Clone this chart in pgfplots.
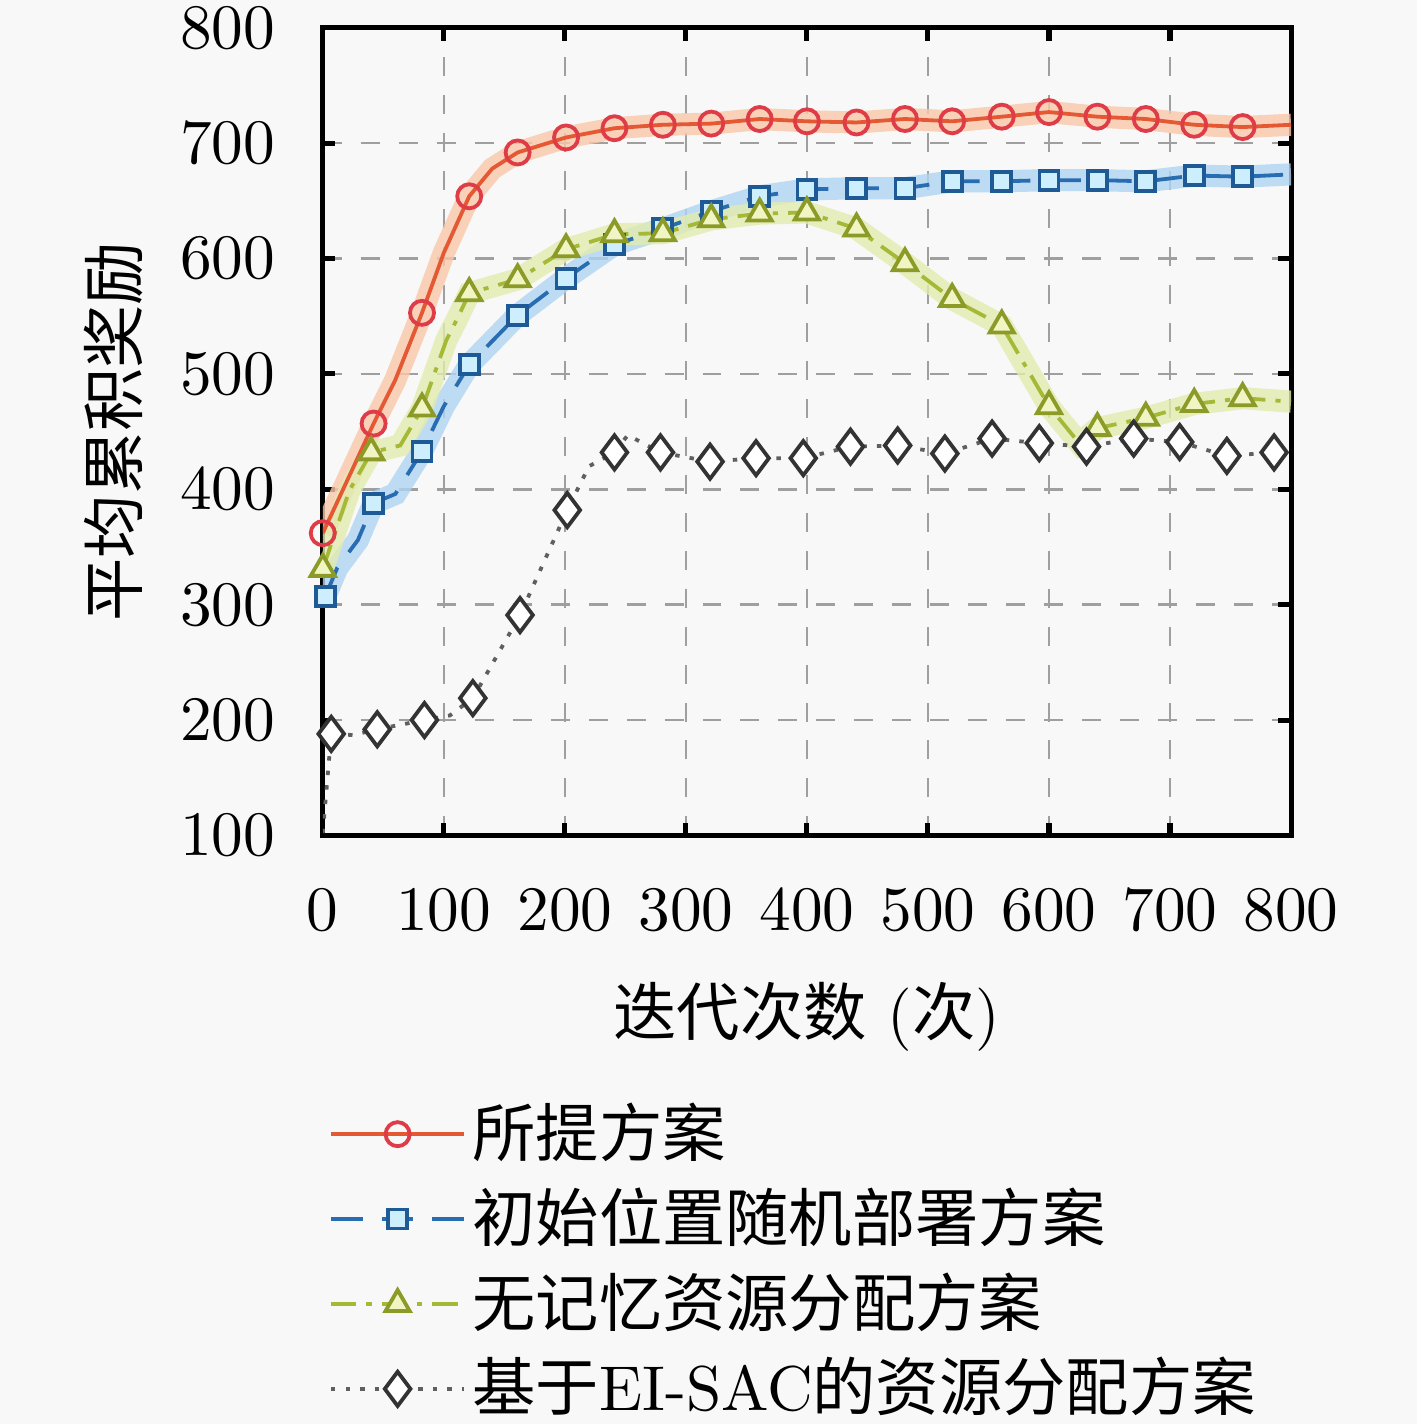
\documentclass[border=0pt]{standalone}
\usepackage{fontspec}
\usepackage{pgfplots}
\usepackage{pgfplotstable}
\pgfplotsset{compat=1.18}
\usetikzlibrary{backgrounds}
\newfontfamily\cjk{Noto Sans CJK SC}
\definecolor{bgc}{RGB}{248,248,248}
\definecolor{cred}{RGB}{228,88,52}
\definecolor{credm}{RGB}{222,60,70}
\definecolor{credb}{RGB}{250,200,170}
\definecolor{cblue}{RGB}{40,108,178}
\definecolor{cbluem}{RGB}{30,90,150}
\definecolor{cbluef}{RGB}{205,238,252}
\definecolor{cblueb}{RGB}{175,212,242}
\definecolor{cgreen}{RGB}{165,185,55}
\definecolor{cgreenm}{RGB}{140,155,40}
\definecolor{cgreenf}{RGB}{240,245,195}
\definecolor{cgreenb}{RGB}{226,236,175}
\definecolor{cgray}{RGB}{95,95,95}

\pgfplotstableread{
x y
0 362
42 457
60 495
82 553
100 605
121 654
140 678
161 692
201 705
241 713
281 716
321 717
361 721
400 719
441 718
481 721
520 719
561 723
600 727
640 723
680 721
720 716
760 714
800 716
}\redtab

\pgfplotstableread{
x y
2 307
12 332
29 356
42 388
60 396
82 433
100 472
121 508
161 551
201 583
241 612
281 626
321 641
361 654
400 660
441 661
481 661
520 667
561 667
600 668
640 668
680 667
720 672
760 671
800 673
}\bluetab

\pgfplotstableread{
x y
0 331
22 399
40 432
64 438
82 470
102 529
113 552
121 570
161 582
201 608
241 621
281 622
321 634
361 639
400 640
441 626
481 596
520 565
561 542
600 472
625 440
640 453
680 462
720 474
760 479
800 476
}\greentab

\pgfplotstableread{
x y
0 102
7 188
25 187
45 192
84 200
105 204
124 219
163 291
202 382
220 420
241 432
252 447
279 432
320 424
358 427
397 427
436 437
475 438
514 431
553 444
592 440
631 437
670 444
708 441
747 429
786 432
800 438
}\graytab

\begin{document}
\begin{tikzpicture}
\begin{axis}[
  scale only axis, width=153pt, height=127.6pt,
  xmin=0, xmax=800, ymin=100, ymax=800,
  xtick={0,100,...,800}, ytick={100,200,...,800},
  grid=major, grid style={dashed, gray!75, line width=0.4pt},
  axis line style={line width=0.8pt},
  major tick length=2pt, tick style={black, line width=0.8pt},
  yticklabel style={xshift=-4.0pt},
  xticklabel style={yshift=-5pt},
  xlabel={{\cjk 迭代次数} ({\cjk 次})},
  ylabel={\cjk 平均累积奖励},
  xlabel style={at={(axis description cs:0.5,-0.224)}, anchor=center},
  ylabel style={at={(axis description cs:-0.216,0.5)}, anchor=center},
  legend style={at={(0,-0.298)}, anchor=north west, xshift=-2.2pt, draw=none, fill=none,
    row sep=-0.55pt, nodes={inner xsep=1pt}},
  legend cell align=left,
  legend image code/.code={\draw[mark repeat=2,mark phase=2,#1,mark indices={2}] plot coordinates {(0cm,0cm)(0.37cm,0cm)(0.74cm,0cm)};},
]
% noise bands
\addplot[forget plot, draw=credb, line width=3.5pt, opacity=0.8] table[x=x,y=y] {\redtab};
\addplot[forget plot, draw=cblueb, line width=3.5pt, opacity=0.8] table[x=x,y=y] {\bluetab};
\addplot[forget plot, draw=cgreenb, line width=3.5pt, opacity=0.8] table[x=x,y=y] {\greentab};
% main series
\addplot[cred, line width=0.6pt, mark=o, mark size=1.9pt,
  mark options={solid, draw=credm, fill=white},
  mark indices={1,2,4,6,8,9,10,11,12,13,14,15,16,17,18,19,20,21,22,23}]
  table[x=x,y=y] {\redtab};
\addlegendentry{\cjk 所提方案}
\addplot[cblue, line width=0.6pt, dash pattern=on 5pt off 3pt, mark=square*, mark size=1.5pt,
  mark options={solid, draw=cbluem, fill=cbluef},
  mark indices={1,4,6,8,9,10,11,12,13,14,15,16,17,18,19,20,21,22,23,24}]
  table[x=x,y=y] {\bluetab};
\addlegendentry{\cjk 初始位置随机部署方案}
\addplot[cgreen, line width=0.6pt, dash pattern=on 4pt off 1.6pt on 0.8pt off 1.6pt, mark=triangle*, mark size=2.2pt,
  mark options={solid, draw=cgreenm, fill=cgreenf},
  mark indices={1,3,5,8,9,10,11,12,13,14,15,16,17,18,19,20,22,23,24,25}]
  table[x=x,y=y] {\greentab};
\addlegendentry{\cjk 无记忆资源分配方案}
\addplot[cgray, line width=0.6pt, dash pattern=on 0.7pt off 1.6pt, mark=diamond*, mark size=2.7pt,
  mark options={solid, draw=black!80, fill=white},
  mark indices={2,4,5,7,8,9,11,13,14,15,16,17,18,19,20,21,22,23,24,25,26}]
  table[x=x,y=y] {\graytab};
\addlegendentry{{\cjk 基于}EI-SAC{\cjk 的资源分配方案}}
\end{axis}
\coordinate (bbA) at ([shift={(-51pt,-93pt)}]current axis.south west);
\coordinate (bbB) at ([shift={(172.9pt,132pt)}]current axis.south west);
\begin{scope}[on background layer]
\fill[bgc] (bbA) rectangle (bbB);
\end{scope}
\pgfresetboundingbox
\path[use as bounding box] (bbA) rectangle (bbB);
\end{tikzpicture}
\end{document}
